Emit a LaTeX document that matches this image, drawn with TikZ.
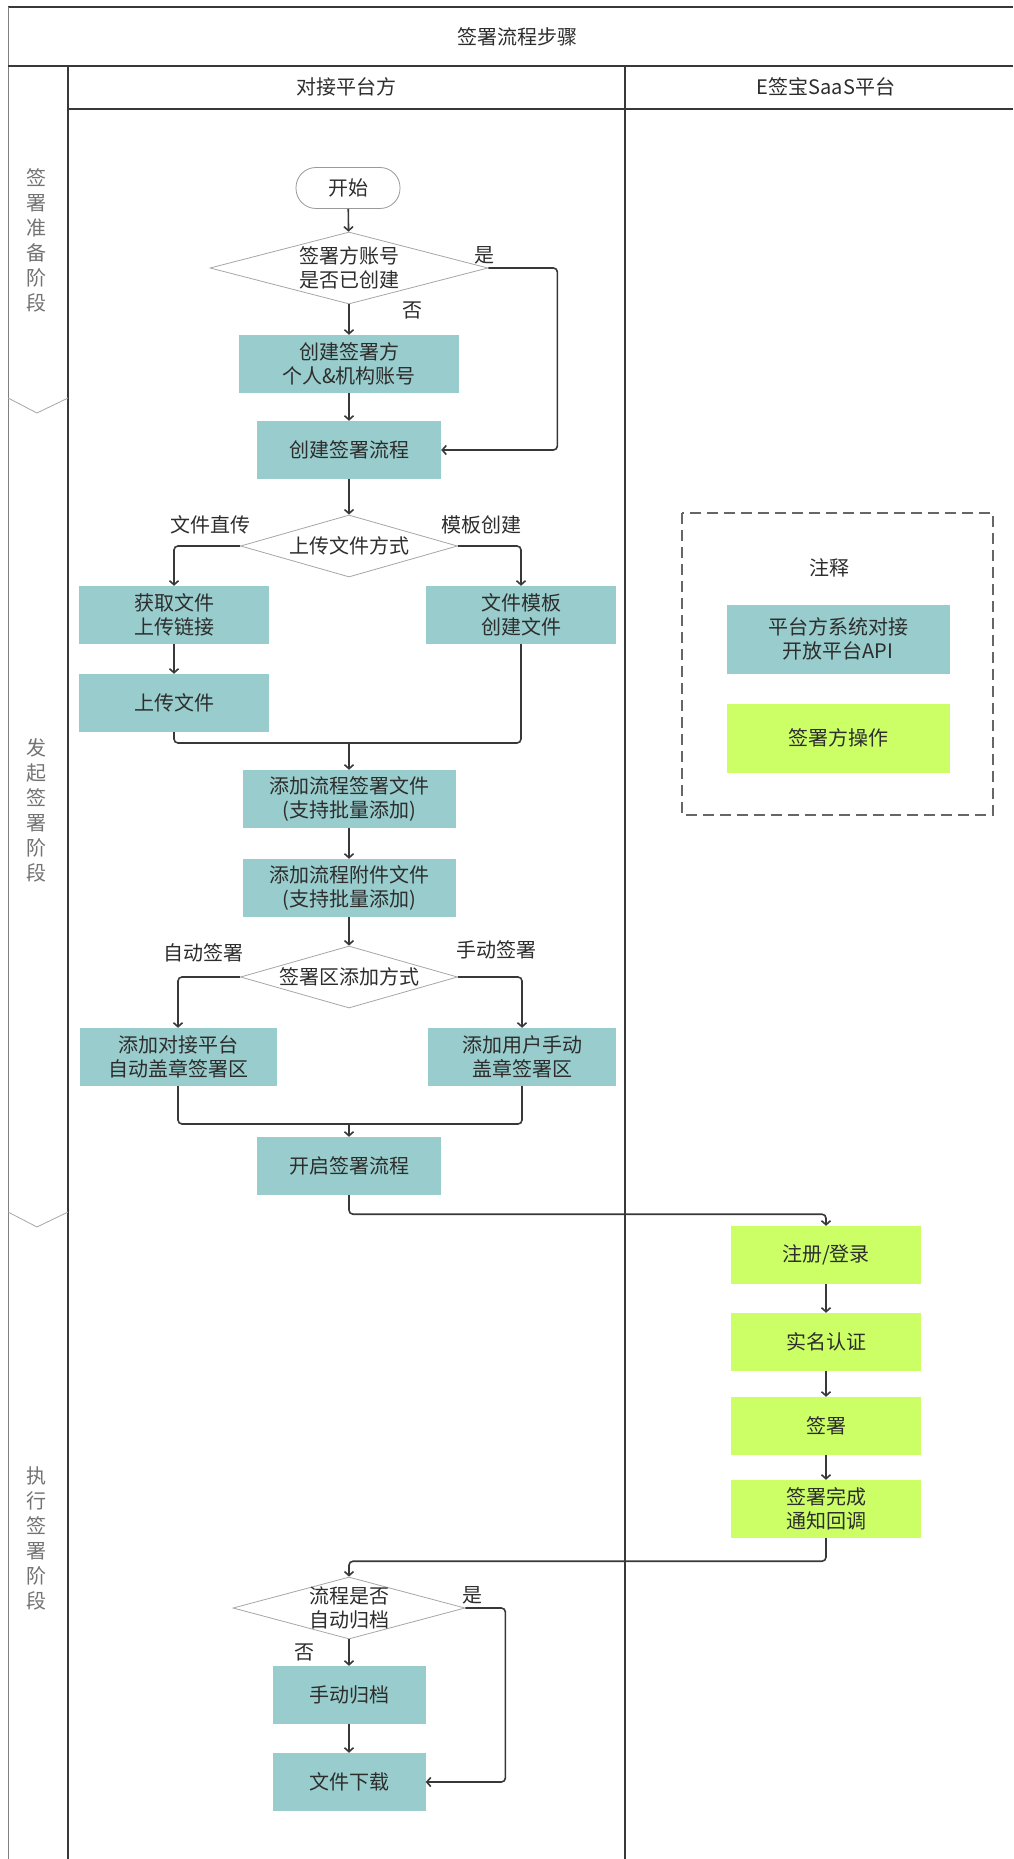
\documentclass[tikz,border=0pt]{standalone}
\usepackage{fontspec}
\setmainfont{Noto Sans CJK SC}
\usepackage{tikz}
\usetikzlibrary{shapes.geometric}
\usetikzlibrary{arrows.meta}
\usepackage{xcolor}
\definecolor{procteal}{RGB}{153,204,204}
\definecolor{usergreen}{RGB}{204,255,102}
\definecolor{lanegray}{RGB}{56,56,56}
\definecolor{txtgray}{RGB}{45,45,45}

\begin{document}
\begin{tikzpicture}[x=1pt,y=-1pt,
  every node/.style={font=\fontsize{20}{24}\selectfont, text=txtgray, align=center},
  lane/.style={line width=1.6pt, lanegray},
  phasebrk/.style={line width=0.8pt, gray!70},
  conn/.style={line width=1.6pt, lanegray, rounded corners=4pt, -{Straight Barb[length=4pt,width=9pt]}},
  link/.style={line width=1.6pt, lanegray, rounded corners=4pt},
  proc/.style={fill=procteal, minimum width=#1, minimum height=58pt, inner sep=0pt},
  proc/.default=190pt,
  user/.style={fill=usergreen, minimum width=#1, minimum height=58pt, inner sep=0pt},
  user/.default=190pt,
  dec/.style={diamond, draw=gray!70, line width=0.8pt, inner sep=0pt},
  startbox/.style={draw=gray!80, line width=0.8pt, rounded corners=20pt, minimum width=104pt, minimum height=41pt}]
\useasboundingbox (0,0) rectangle (1013,1859);

% lanes
\draw [lane] (8,7) -- (1013,7);
\draw [lane, line width=1pt, gray] (8,7) -- (8,1859);
\draw [lane] (8,66) -- (1013,66);
\draw [lane] (68,109) -- (1013,109);
\draw [lane] (68,66) -- (68,1859);
\draw [lane] (625,66) -- (625,1859);
\node (ttl) at (517,37) {签署流程步骤};
\node (lane1) at (346,87) {对接平台方};
\node (lane2) at (826,87) {E签宝SaaS平台};

% phases
\draw [phasebrk] (8,398) -- (37,413) -- (68,398);
\draw [phasebrk] (8,1212) -- (37,1227) -- (68,1212);
\node [text=gray!90!black, font=\fontsize{20}{25}\selectfont] (ph1) at (37,240) {签\\署\\准\\备\\阶\\段};
\node [text=gray!90!black, font=\fontsize{20}{25}\selectfont] (ph2) at (37,810) {发\\起\\签\\署\\阶\\段};
\node [text=gray!90!black, font=\fontsize{20}{25}\selectfont] (ph3) at (37,1538) {执\\行\\签\\署\\阶\\段};

% platform side
\node [startbox] (start) at (348,188) {开始};
\node [dec, minimum width=278pt, minimum height=72pt] (d1) at (349,268) {};
\node (d1t) at (d1) {签署方账号\\是否已创建};
\node [proc=220pt] (acct) at (349,364) {创建签署方\\个人\&机构账号};
\node [proc=184pt] (flow) at (349,450) {创建签署流程};
\node [dec, minimum width=217pt, minimum height=62pt] (d2) at (349,546) {};
\node (d2t) at (d2) {上传文件方式};
\node [proc] (get) at (174,615) {获取文件\\上传链接};
\node [proc] (tpl) at (521,615) {文件模板\\创建文件};
\node [proc] (up) at (174,703) {上传文件};
\node [proc=213pt] (sign) at (349,799) {添加流程签署文件\\(支持批量添加)};
\node [proc=213pt] (att) at (349,888) {添加流程附件文件\\(支持批量添加)};
\node [dec, minimum width=217pt, minimum height=62pt] (d3) at (349,977) {};
\node (d3t) at (d3) {签署区添加方式};
\node [proc=197pt] (auto) at (178,1057) {添加对接平台\\自动盖章签署区};
\node [proc=188pt] (manu) at (522,1057) {添加用户手动\\盖章签署区};
\node [proc=184pt] (launch) at (349,1166) {开启签署流程};
\node [dec, minimum width=232pt, minimum height=62pt] (d4) at (349,1608) {};
\node (d4t) at (d4) {流程是否\\自动归档};
\node [proc=153pt] (manual) at (349,1695) {手动归档};
\node [proc=153pt] (dl) at (349,1782) {文件下载};

% saas side
\node [user] (reg) at (826,1255) {注册/登录};
\node [user] (real) at (826,1342) {实名认证};
\node [user] (sgn) at (826,1426) {签署};
\node [user] (done) at (826,1509) {签署完成\\通知回调};

% legend
\draw [gray!80!black, line width=1.2pt, dash pattern=on 11pt off 6pt] (682,513) rectangle (993,815);
\node (note) at (829,568) {注释};
\node [proc=223pt, minimum height=69pt] (lg1) at (838,639) {平台方系统对接\\开放平台API};
\node [user=223pt, minimum height=69pt] (lg2) at (838,738) {签署方操作};

% branch labels
\node (yes1) at (484,255) {是};
\node (no1) at (412,310) {否};
\node (lbdirect) at (210,525) {文件直传};
\node (lbtpl) at (481,525) {模板创建};
\node (lbauto) at (203,953) {自动签署};
\node (lbmanu) at (496,950) {手动签署};
\node (yes2) at (472,1595) {是};
\node (no2) at (304,1652) {否};

% connectors
\coordinate (m1) at (349,743);
\coordinate (m2) at (349,1124);
\draw [conn] (start) -- (d1);
\draw [conn] (d1) -- (acct);
\draw [conn] (d1.east) -- ++(69,0) |- (flow.east);
\draw [conn] (acct) -- (flow);
\draw [conn] (flow) -- (d2);
\draw [conn] (d2.west) -| (get.north);
\draw [conn] (d2.east) -| (tpl.north);
\draw [conn] (get) -- (up);
\draw [link] (up.south) |- (m1);
\draw [link] (tpl.south) |- (m1);
\draw [conn] (m1) -- (sign.north);
\draw [conn] (sign) -- (att);
\draw [conn] (att) -- (d3);
\draw [conn] (d3.west) -| (auto.north);
\draw [conn] (d3.east) -| (manu.north);
\draw [link] (auto.south) |- (m2);
\draw [link] (manu.south) |- (m2);
\draw [conn] (m2) -- (launch.north);
\draw [conn] (launch.south) -- ++(0,19) -| (reg.north);
\draw [conn] (reg) -- (real);
\draw [conn] (real) -- (sgn);
\draw [conn] (sgn) -- (done);
\draw [conn] (done.south) -- ++(0,23) -| (d4.north);
\draw [conn] (d4) -- (manual);
\draw [conn] (manual) -- (dl);
\draw [conn] (d4.east) -- ++(40,0) |- (dl.east);
\end{tikzpicture}
\end{document}
